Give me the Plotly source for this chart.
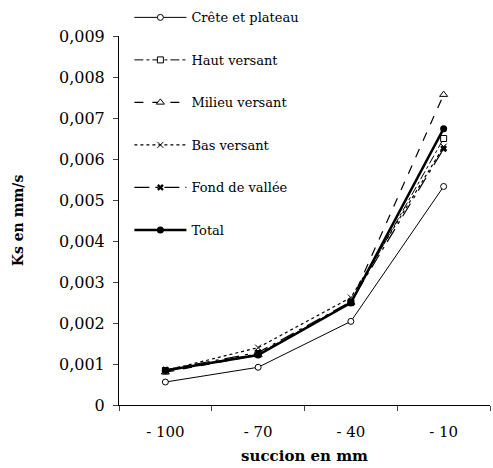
import plotly.graph_objects as go

categories = ["- 100", "- 70", "- 40", "- 10"]
crete = [0.00056, 0.00092, 0.00204, 0.00533]
haut = [0.00083, 0.00125, 0.00250, 0.00650]
milieu = [0.00080, 0.00122, 0.00250, 0.00757]
bas = [0.00084, 0.00140, 0.00262, 0.00630]
fond = [0.00086, 0.00128, 0.00252, 0.00625]
total = [0.00084, 0.00122, 0.00249, 0.00674]
ytick_vals = [0, 0.001, 0.002, 0.003, 0.004, 0.005, 0.006, 0.007, 0.008, 0.009]
ytick_text = ["0", "0,001", "0,002", "0,003", "0,004", "0,005", "0,006", "0,007", "0,008", "0,009"]

series = [
    ("Crête et plateau", crete, dict(width=1, dash="solid"),
     dict(symbol="circle", size=6, color="white", line=dict(width=1, color="black"))),
    ("Haut versant", haut, dict(width=1, dash="dashdot"),
     dict(symbol="square", size=6, color="white", line=dict(width=1, color="black"))),
    ("Milieu versant", milieu, dict(width=1.2, dash="dash"),
     dict(symbol="triangle-up", size=7, color="white", line=dict(width=1, color="black"))),
    ("Bas versant", bas, dict(width=1.2, dash="dot"),
     dict(symbol="x-thin-open", size=6, color="black", line=dict(width=1, color="black"))),
    ("Fond de vallée", fond, dict(width=1.2, dash="longdashdot"),
     dict(symbol="x", size=6, color="black", line=dict(width=0))),
    ("Total", total, dict(width=2.5, dash="solid"),
     dict(symbol="circle", size=7, color="black", line=dict(width=0))),
]

fig = go.Figure()
for i, (name, vals, ln, mk) in enumerate(series):
    fig.add_trace(go.Scatter(
        x=categories, y=vals, name=name, mode="lines+markers",
        line=dict(color="black", **ln), marker=mk, legendgroup=str(i),
    ))

font_family = "DejaVu Serif"
fig.update_layout(
    width=493, height=468,
    margin=dict(l=119, r=3, t=35, b=63),
    paper_bgcolor="white", plot_bgcolor="white",
    separators=", ",
    font=dict(family=font_family, size=13, color="black"),
    showlegend=True,
    legend=dict(
        x=0.028, y=1.088, xanchor="left", yanchor="top",
        bgcolor="rgba(255,255,255,1)", tracegroupgap=22.6,
        font=dict(family=font_family, size=13), itemwidth=52,
        maxheight=460,
    ),
    xaxis=dict(
        type="category", tickson="boundaries", ticks="outside", ticklen=5,
        range=[-0.5, 3.5],
        showline=True, linecolor="black", linewidth=1, showgrid=False,
        ticklabelstandoff=13,
        title=dict(text="<b>succion en mm</b>", standoff=10, font=dict(size=15)),
        tickfont=dict(size=15),
    ),
    yaxis=dict(
        range=[0, 0.009], tickvals=ytick_vals, ticktext=ytick_text,
        ticks="outside", ticklen=5, showline=True, linecolor="black", linewidth=1,
        showgrid=False, zeroline=False, ticklabelstandoff=5,
        title=dict(text="<b>Ks en mm/s</b>", standoff=32, font=dict(size=14)),
        tickfont=dict(size=16),
    ),
)
fig.write_html("out.html")
